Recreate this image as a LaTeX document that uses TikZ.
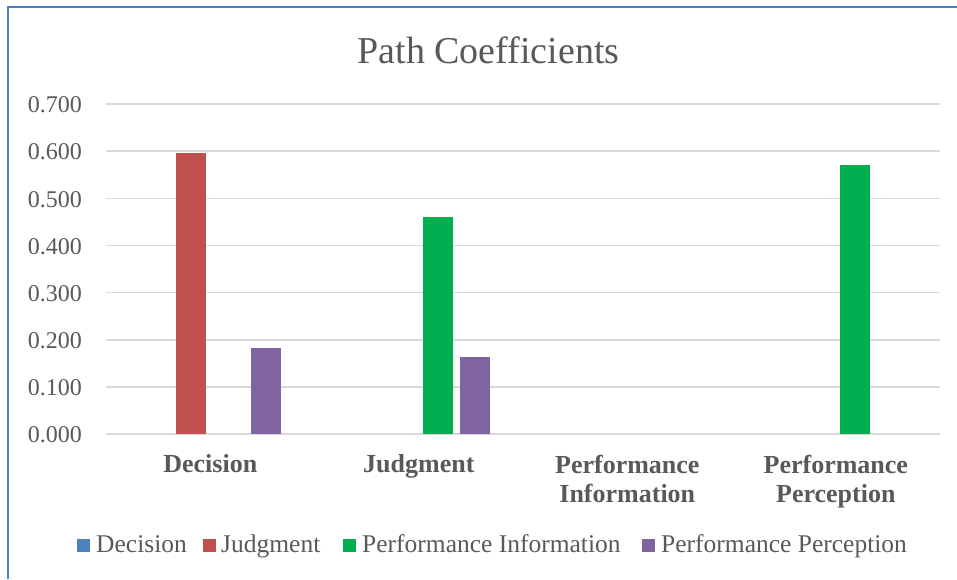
\documentclass[tikz,border=0pt]{standalone}
\usepackage{fontspec}
\setmainfont{Liberation Serif}
\definecolor{txt}{HTML}{595959}
\definecolor{grid}{HTML}{D9D9D9}
\definecolor{frame}{HTML}{4F81BD}
\definecolor{sDec}{HTML}{4F81BD}
\definecolor{sJud}{HTML}{C0504D}
\definecolor{sPI}{HTML}{00B050}
\definecolor{sPP}{HTML}{8064A2}
\begin{document}
\begin{tikzpicture}[x=1pt,y=-1pt,
  ticklab/.style={anchor=base east,inner sep=0pt,text=txt,font=\fontsize{24}{28}\selectfont},
  catlab/.style={anchor=base,inner sep=0pt,text=txt,align=center,font=\fontsize{26}{29}\selectfont\bfseries},
  leglab/.style={anchor=base west,inner sep=0pt,text=txt,font=\fontsize{25.5}{28}\selectfont},
  gridline/.style={draw=grid,line width=1.6pt},
  bar/.style={inner sep=0pt,outer sep=0pt}]
\useasboundingbox (0,0) rectangle (957,579);
\fill[white] (0,0) rectangle (957,579);
% frame
\draw[frame,line width=1.2pt] (8,579) -- (8,7) -- (957,7);
% title
\node[anchor=base,inner sep=0pt,text=txt,font=\fontsize{38}{44}\selectfont] (title) at (488.5,63) {Path Coefficients};
% gridlines and tick labels
\foreach \v/\lab in {0/0.000,1/0.100,2/0.200,3/0.300,4/0.400,5/0.500,6/0.600,7/0.700}{
  \pgfmathsetmacro{\yy}{434-47.14*\v}
  \coordinate (gl\v) at (106,\yy);
  \coordinate (gr\v) at (940,\yy);
  \draw[gridline] (gl\v) -- (gr\v);
  \node[ticklab] (tick\v) at (82,\yy+8.7) {\lab};
}
% bars: value -> height 471.4 per unit
\newcommand{\chartbar}[3]{% center x, value, colour
  \fill[#3] ({#1-15},434) rectangle ({#1+15},{434-471.4*#2});
}
\chartbar{191.0}{0.597}{sJud}
\chartbar{266.4}{0.183}{sPP}
\chartbar{437.5}{0.460}{sPI}
\chartbar{475.1}{0.163}{sPP}
\chartbar{854.5}{0.571}{sPI}
% category labels
\node[catlab] (c1) at (210.3,472) {Decision};
\node[catlab] (c2) at (418.8,472) {Judgment};
\node[catlab,anchor=north] (c3) at (627.3,455) {Performance\\Information};
\node[catlab,anchor=north] (c4) at (835.8,455) {Performance\\Perception};
% legend
\fill[sDec] (77,539) rectangle (90,552);
\node[leglab] (l1) at (96,552.7) {Decision};
\fill[sJud] (203,539) rectangle (216,552);
\node[leglab] (l2) at (221,552.7) {Judgment};
\fill[sPI] (343,539) rectangle (356,552);
\node[leglab] (l3) at (362,552.7) {Performance Information};
\fill[sPP] (642,539) rectangle (655,552);
\node[leglab] (l4) at (661,552.7) {Performance Perception};
\end{tikzpicture}
\end{document}
